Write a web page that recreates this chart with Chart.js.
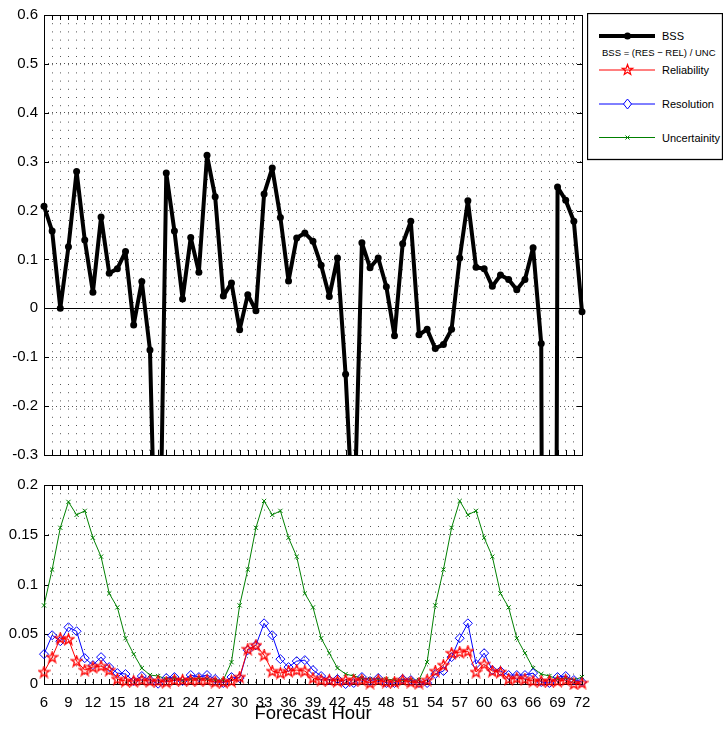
<!DOCTYPE html>
<html>
<head>
<meta charset="utf-8">
<script src="https://cdn.jsdelivr.net/npm/chart.js@4/dist/chart.umd.min.js"></script>
<style>
	body { margin: 0; background: #fff; }
	#wrap { position: relative; width: 723px; height: 734px; overflow: hidden; }
	#bssCanvas { position: absolute; left: 0; top: 0; }
	#termCanvas { position: absolute; left: 0; top: 470px; }
	#legend { position: absolute; left: 587px; top: 13px; }
	#legend text { font-family: "Liberation Sans", Arial, sans-serif; fill: #000; }
</style>
</head>
<body>
<div id="wrap">
	<canvas id="bssCanvas" width="723" height="470"></canvas>
	<canvas id="termCanvas" width="723" height="264"></canvas>
	<svg id="legend" width="136" height="148">
		<rect x="0.5" y="0.5" width="135" height="146" fill="#fff" stroke="#000" stroke-width="1.3"/>
		<line x1="12" y1="23" x2="68" y2="23" stroke="#000" stroke-width="4"/>
		<circle cx="40.5" cy="23" r="3.5" fill="#000"/>
		<text x="75" y="27" font-size="11">BSS</text>
		<text x="15" y="43" font-size="9.5">BSS = (RES − REL) / UNC</text>
		<line x1="12" y1="57" x2="68" y2="57" stroke="#ff0000" stroke-width="1"/>
		<polygon points="40.5,51.5 41.8,55.2 45.7,55.3 42.6,57.7 43.7,61.4 40.5,59.2 37.3,61.4 38.4,57.7 35.3,55.3 39.2,55.2" fill="none" stroke="#ff0000" stroke-width="1.2"/>
		<text x="75" y="61" font-size="11">Reliability</text>
		<line x1="12" y1="91" x2="68" y2="91" stroke="#0000ff" stroke-width="1"/>
		<polygon points="40.5,86 44.5,91 40.5,96 36.5,91" fill="#fff" stroke="#0000ff" stroke-width="1"/>
		<text x="75" y="95" font-size="11">Resolution</text>
		<line x1="12" y1="124.5" x2="68" y2="124.5" stroke="#008000" stroke-width="1"/>
		<path d="M38.5,122.5 L42.5,126.5 M42.5,122.5 L38.5,126.5" stroke="#008000" stroke-width="1"/>
		<text x="75" y="128.5" font-size="11">Uncertainity</text>
	</svg>
</div>
<script>
// forecast hours along the x axis
var hours = [6, 7, 8, 9, 10, 11, 12, 13, 14, 15, 16, 17, 18, 19, 20, 21, 22, 23, 24, 25,
	26, 27, 28, 29, 30, 31, 32, 33, 34, 35, 36, 37, 38, 39, 40, 41, 42, 43, 44, 45,
	46, 47, 48, 49, 50, 51, 52, 53, 54, 55, 56, 57, 58, 59, 60, 61, 62, 63, 64, 65,
	66, 67, 68, 69, 70, 71, 72];
// labelled hours on the lower axis
var hourLabels = [6, 9, 12, 15, 18, 21, 24, 27, 30, 33, 36, 39, 42, 45, 48, 51, 54, 57, 60, 63, 66, 69, 72];

var bss = [0.209, 0.158, 0.000, 0.126, 0.280, 0.140, 0.033, 0.187, 0.072, 0.081,
	0.116, -0.034, 0.055, -0.085, -0.75, 0.277, 0.158, 0.019, 0.145, 0.074,
	0.313, 0.228, 0.025, 0.052, -0.044, 0.028, -0.005, 0.234, 0.287, 0.186,
	0.056, 0.144, 0.154, 0.137, 0.088, 0.024, 0.103, -0.135, -0.47, 0.134,
	0.083, 0.103, 0.044, -0.056, 0.132, 0.178, -0.054, -0.043, -0.082, -0.074,
	-0.043, 0.103, 0.220, 0.084, 0.081, 0.045, 0.068, 0.059, 0.038, 0.059,
	0.124, -0.072, -5.0, 0.248, 0.221, 0.178, -0.007];

var reliability = [0.012, 0.027, 0.046, 0.045, 0.023, 0.014, 0.017, 0.018, 0.014, 0.005,
	0.003, 0.003, 0.004, 0.003, 0.003, 0.002, 0.004, 0.004, 0.004, 0.004,
	0.004, 0.002, 0.002, 0.003, 0.007, 0.035, 0.039, 0.029, 0.013, 0.011,
	0.013, 0.014, 0.013, 0.006, 0.004, 0.004, 0.003, 0.004, 0.004, 0.004,
	0.001, 0.004, 0.002, 0.002, 0.004, 0.002, 0.001, 0.004, 0.013, 0.019,
	0.031, 0.032, 0.033, 0.012, 0.020, 0.013, 0.012, 0.005, 0.006, 0.005,
	0.003, 0.003, 0.003, 0.003, 0.004, 0.0003, 0.001];

var resolution = [0.030, 0.049, 0.043, 0.057, 0.053, 0.026, 0.019, 0.027, 0.017, 0.011,
	0.010, 0.003, 0.008, 0.004, 0.0003, 0.006, 0.007, 0.003, 0.009, 0.007,
	0.009, 0.005, 0.001, 0.007, 0.006, 0.034, 0.039, 0.061, 0.049, 0.025,
	0.017, 0.023, 0.024, 0.014, 0.008, 0.004, 0.005, 0.000, 0.001, 0.007,
	0.003, 0.006, 0.001, 0.001, 0.005, 0.004, 0.001, 0.001, 0.010, 0.013,
	0.027, 0.046, 0.061, 0.020, 0.031, 0.014, 0.013, 0.009, 0.009, 0.009,
	0.011, 0.002, 0.001, 0.007, 0.008, 0.004, 0.002];

var uncertainty = [0.079, 0.115, 0.157, 0.183, 0.170, 0.174, 0.147, 0.128, 0.091, 0.077,
	0.046, 0.030, 0.016, 0.009, 0.008, 0.005, 0.006, 0.004, 0.005, 0.006,
	0.005, 0.004, 0.004, 0.022, 0.079, 0.115, 0.157, 0.184, 0.170, 0.174,
	0.147, 0.128, 0.091, 0.077, 0.046, 0.031, 0.016, 0.010, 0.008, 0.006,
	0.005, 0.005, 0.005, 0.004, 0.004, 0.004, 0.004, 0.022, 0.079, 0.115,
	0.157, 0.184, 0.170, 0.174, 0.147, 0.128, 0.091, 0.077, 0.046, 0.031,
	0.016, 0.010, 0.008, 0.005, 0.006, 0.004, 0.007];

Chart.defaults.font.family = '"Liberation Sans", Arial, sans-serif';
Chart.defaults.color = '#000';

function points(values) {
	return hours.map(function (h, i) { return { x: h, y: values[i] }; });
}

function fmt(v) {
	return String(Math.round(v * 100) / 100);
}

// red pentagram marker, like matlab's 'p'
function starMarker() {
	var c = document.createElement('canvas');
	c.width = 13; c.height = 13;
	var g = c.getContext('2d');
	g.strokeStyle = '#ff0000';
	g.lineWidth = 1.3;
	g.lineJoin = 'miter';
	g.beginPath();
	for (var k = 0; k < 10; k++) {
		var r = k % 2 === 0 ? 5.6 : 2.3;
		var ang = -Math.PI / 2 + k * Math.PI / 5;
		var px = 6.5 + r * Math.cos(ang), py = 6.8 + r * Math.sin(ang);
		if (k === 0) g.moveTo(px, py); else g.lineTo(px, py);
	}
	g.closePath();
	g.stroke();
	return c;
}

// axes box, inward ticks and the zero line
var frame = {
	id: 'frame',
	beforeDatasetsDraw: function (chart, args, opts) {
		var a = chart.chartArea, ctx = chart.ctx;
		var xs = chart.scales.x, ys = chart.scales.y;
		ctx.save();
		ctx.strokeStyle = '#000';
		ctx.lineWidth = 1;
		ctx.beginPath();
		if (opts.zeroLine) {
			var zy = Math.round(ys.getPixelForValue(0)) + 0.5;
			ctx.moveTo(a.left, zy);
			ctx.lineTo(a.right, zy);
		}
		xs.ticks.forEach(function (t) {
			var px = Math.round(xs.getPixelForValue(t.value)) + 0.5;
			ctx.moveTo(px, a.top); ctx.lineTo(px, a.top + 5);
			ctx.moveTo(px, a.bottom); ctx.lineTo(px, a.bottom - 5);
		});
		ys.ticks.forEach(function (t) {
			var py = Math.round(ys.getPixelForValue(t.value)) + 0.5;
			ctx.moveTo(a.left, py); ctx.lineTo(a.left + 5, py);
			ctx.moveTo(a.right, py); ctx.lineTo(a.right - 5, py);
		});
		ctx.stroke();
		ctx.strokeRect(Math.round(a.left) + 0.5, Math.round(a.top) + 0.5,
			Math.round(a.right - a.left), Math.round(a.bottom - a.top));
		ctx.restore();
	}
};

function xAxis(showLabels) {
	return {
		type: 'linear',
		min: 6,
		max: 72,
		grid: { color: '#555', lineWidth: 1, drawTicks: false },
		border: { display: false, dash: [1, 7.2] },
		ticks: {
			stepSize: 1,
			autoSkip: false,
			maxRotation: 0,
			display: showLabels,
			padding: 10,
			font: { size: 15 },
			callback: function (v) { return hourLabels.indexOf(v) >= 0 ? String(v) : ''; }
		},
		title: {
			display: showLabels,
			text: 'Forecast Hour',
			font: { size: 18.5 },
			padding: { top: 0, bottom: 9 }
		},
		afterFit: function (s) { s.height = showLabels ? 50 : 14; }
	};
}

function yAxis(min, max, step) {
	return {
		min: min,
		max: max,
		grid: { color: '#555', lineWidth: 1, drawTicks: false },
		border: { display: false, dash: [1, 3] },
		ticks: {
			stepSize: step,
			padding: 6,
			font: { size: 15 },
			callback: function (v) { return fmt(v); }
		},
		afterFit: function (s) { s.width = 44; }
	};
}

new Chart(document.getElementById('bssCanvas'), {
	type: 'line',
	data: {
		datasets: [{
			label: 'BSS',
			data: points(bss),
			borderColor: '#000',
			backgroundColor: '#000',
			borderWidth: 4,
			borderJoinStyle: 'round',
			borderCapStyle: 'round',
			pointRadius: 3.5,
			pointBackgroundColor: '#000',
			pointBorderWidth: 0,
			clip: { left: 6, top: 6, right: 6, bottom: 0 }
		}]
	},
	options: {
		responsive: false,
		animation: false,
		devicePixelRatio: 1,
		layout: { padding: { top: 13, right: 141, left: 0, bottom: 0 } },
		plugins: { legend: { display: false }, tooltip: { enabled: false }, frame: { zeroLine: true } },
		scales: { x: xAxis(false), y: yAxis(-0.3, 0.6, 0.1) }
	},
	plugins: [frame]
});

new Chart(document.getElementById('termCanvas'), {
	type: 'line',
	data: {
		datasets: [{
			label: 'Reliability',
			data: points(reliability),
			borderColor: '#ff0000',
			borderWidth: 1,
			pointStyle: starMarker(),
			clip: false
		}, {
			label: 'Resolution',
			data: points(resolution),
			borderColor: '#0000ff',
			borderWidth: 1,
			pointStyle: 'rectRot',
			pointRadius: 4.5,
			pointBorderWidth: 1,
			pointBorderColor: '#0000ff',
			pointBackgroundColor: 'rgba(255,255,255,0)',
			clip: false
		}, {
			label: 'Uncertainity',
			data: points(uncertainty),
			borderColor: '#008000',
			borderWidth: 1,
			pointStyle: 'crossRot',
			pointRadius: 3,
			pointBorderWidth: 1,
			pointBorderColor: '#008000',
			clip: false
		}]
	},
	options: {
		responsive: false,
		animation: false,
		devicePixelRatio: 1,
		layout: { padding: { top: 13, right: 141, left: 0, bottom: 0 } },
		plugins: { legend: { display: false }, tooltip: { enabled: false }, frame: { zeroLine: false } },
		scales: { x: xAxis(true), y: yAxis(0, 0.2, 0.05) }
	},
	plugins: [frame]
});
</script>
</body>
</html>
